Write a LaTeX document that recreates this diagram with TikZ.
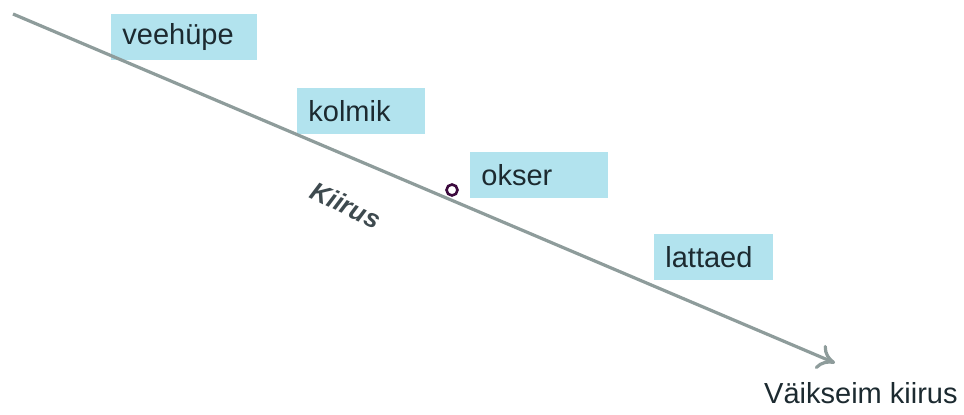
\documentclass[tikz,border=0pt]{standalone}
\usepackage{fontspec}
\setmainfont{Liberation Sans}
\usetikzlibrary{arrows.meta}
\definecolor{boxcyan}{HTML}{B2E3EE}
\definecolor{linegray}{HTML}{8E9C9B}
\definecolor{textdark}{HTML}{1C2A30}
\definecolor{dotpurple}{HTML}{3C0A3E}
\begin{document}
\begin{tikzpicture}[x=0.5pt,y=-0.5pt]
\tikzstyle{jump}=[rectangle,fill=boxcyan,anchor=north west,minimum height=23pt,inner xsep=5.5pt,align=left,text=textdark,font=\fontsize{14.5}{17}\selectfont]
\useasboundingbox (0,0) rectangle (964,415);
\node[jump,text width=62pt] (veehupe) at (111,14) {veehüpe};
\node[jump,text width=53pt] (kolmik) at (297,88) {kolmik};
\node[jump,text width=58pt] (okser) at (470,152) {okser};
\node[jump,text width=48.5pt] (lattaed) at (654,234) {lattaed};
\coordinate (start) at (13,14);
\coordinate (end) at (835,363);
\draw[linegray,line width=1.6pt,-{To[length=8.5pt,width=13pt,line width=1.6pt]}] (start) -- (end);
\node[circle,draw=dotpurple,fill=white,line width=1.3pt,inner sep=0pt,minimum size=5.5pt] (dot) at (452,190) {};
\node[rotate=-26,text=textdark!85,font=\fontsize{13}{15}\selectfont\bfseries\itshape] (kiirus) at (346,205) {Kiirus};
\node[anchor=base east,inner sep=0pt,text=textdark,font=\fontsize{14.5}{17}\selectfont] (slowest) at (958,404) {Väikseim kiirus};
\end{tikzpicture}
\end{document}
